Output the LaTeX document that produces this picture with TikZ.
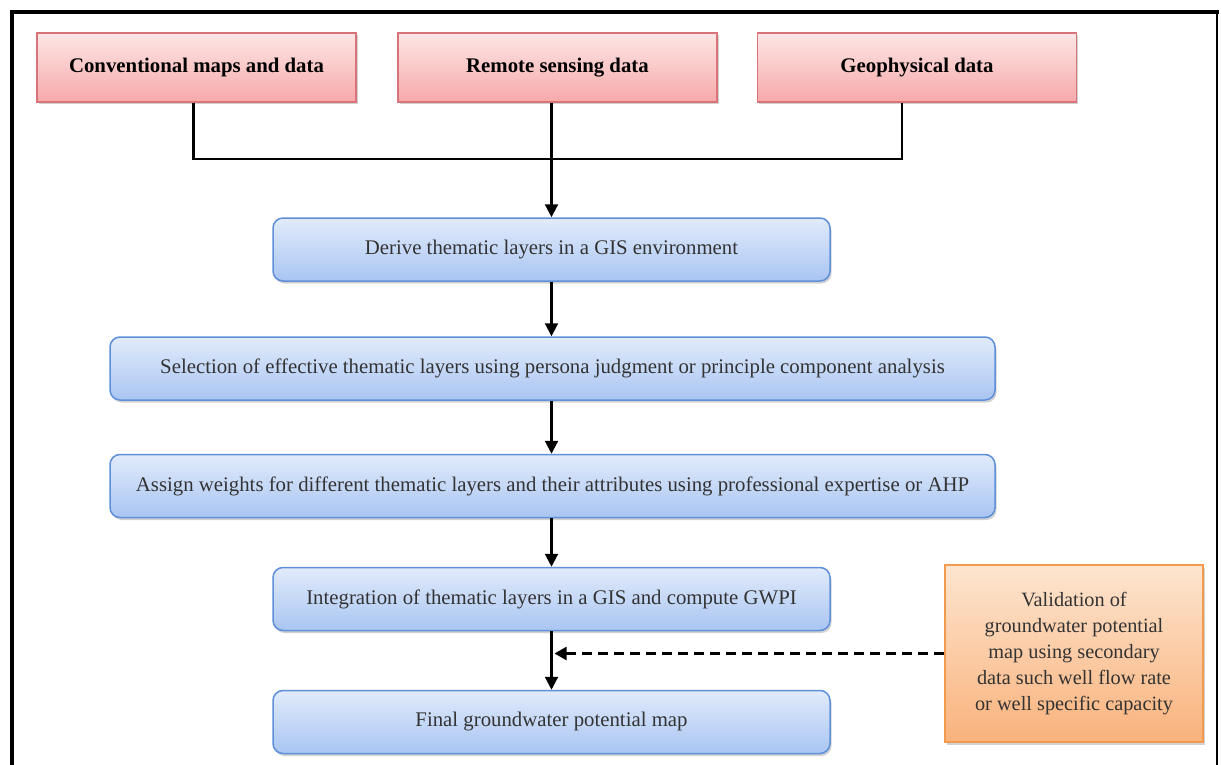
\documentclass[tikz,border=0pt]{standalone}
\usepackage{fontspec}
\setmainfont{Liberation Serif}
\usetikzlibrary{arrows.meta,shadows,calc}
\definecolor{pinkTop}{HTML}{FDE6E6}
\definecolor{pinkBot}{HTML}{F7A9A9}
\definecolor{pinkLine}{HTML}{D9737A}
\definecolor{blueTop}{HTML}{E1EBFB}
\definecolor{blueBot}{HTML}{A9C5F2}
\definecolor{blueLine}{HTML}{5E8FD8}
\definecolor{orTop}{HTML}{FDE5CF}
\definecolor{orBot}{HTML}{F9B27C}
\definecolor{orLine}{HTML}{F29A4E}
\definecolor{txtgray}{HTML}{333333}
\begin{document}
\begin{tikzpicture}[x=1pt,y=-1pt,
  font=\fontsize{20.8}{24}\selectfont,
  shad/.style={drop shadow={opacity=0.35, shadow xshift=1.5pt, shadow yshift=-2.5pt}},
  srcbox/.style={shad, draw=pinkLine, line width=1.5pt, top color=pinkTop, bottom color=pinkBot,
    minimum width=319pt, minimum height=69pt, inner sep=0pt,
    font=\fontsize{20.8}{24}\selectfont\bfseries, text=black},
  stepbox/.style={shad, draw=blueLine, line width=1.5pt, rounded corners=10pt,
    top color=blueTop, bottom color=blueBot, minimum height=63pt, inner sep=0pt, text=txtgray},
  valbox/.style={shad, draw=orLine, line width=1.5pt, top color=orTop, bottom color=orBot,
    minimum width=258pt, minimum height=177pt, inner sep=0pt, align=center, text=txtgray,
    font=\fontsize{20.3}{26}\selectfont},
  conn/.style={line width=2.2pt, black},
  arr/.style={conn, -{Triangle[width=13pt,length=13pt]}},
  dasharr/.style={line width=2.2pt, black, dash pattern=on 10pt off 6pt, -{Triangle[width=13pt,length=12pt]}}
]
\useasboundingbox (0,0) rectangle (1221,765);
\fill[white] (0,0) rectangle (1221,765);
% frame
\draw[line width=4pt, line cap=rect] (12,765) -- (12,12) -- (1217,12);
\draw[line width=2.5pt] (1217,12) -- (1217,765);

\node[srcbox] (src1) at (196.5,67.5) {Conventional maps and data};
\node[srcbox] (src2) at (557.5,67.5) {Remote sensing data};
\node[srcbox] (src3) at (917,67.5) {Geophysical data};

\node[stepbox, minimum width=557pt] (derive) at (551.5,249.5) {Derive thematic layers in a GIS environment};
\node[stepbox, minimum width=885pt] (select) at (552.5,368.5) {Selection of effective thematic layers using persona judgment or principle component analysis};
\node[stepbox, minimum width=885pt] (assign) at (552.5,486) {Assign weights for different thematic layers and their attributes using professional expertise or AHP};
\node[stepbox, minimum width=557pt] (integ) at (551.5,599) {Integration of thematic layers in a GIS and compute GWPI};
\node[stepbox, minimum width=557pt] (final) at (551.5,722) {Final groundwater potential map};

\node[valbox] (valid) at (1074,653.5) {Validation of\\groundwater potential\\map using secondary\\data such well flow rate\\or well specific capacity};

\coordinate (junc) at (551.5,159);
\draw[conn] ([xshift=-3pt]src1.south) |- (junc);
\draw[conn] ([xshift=-15pt]src3.south) |- (junc);
\draw[arr] (derive.north |- src2.south) -- (derive.north);
\draw[arr] (derive.south) -- (derive.south |- select.north);
\draw[arr] (derive.south |- select.south) -- (derive.south |- assign.north);
\draw[arr] (derive.south |- assign.south) -- (integ.north);
\draw[arr] (integ.south) -- (final.north);
\coordinate (spine) at (valid.west -| integ.south);
\draw[dasharr] (valid.west) -- ([xshift=3pt]spine);
\end{tikzpicture}
\end{document}
